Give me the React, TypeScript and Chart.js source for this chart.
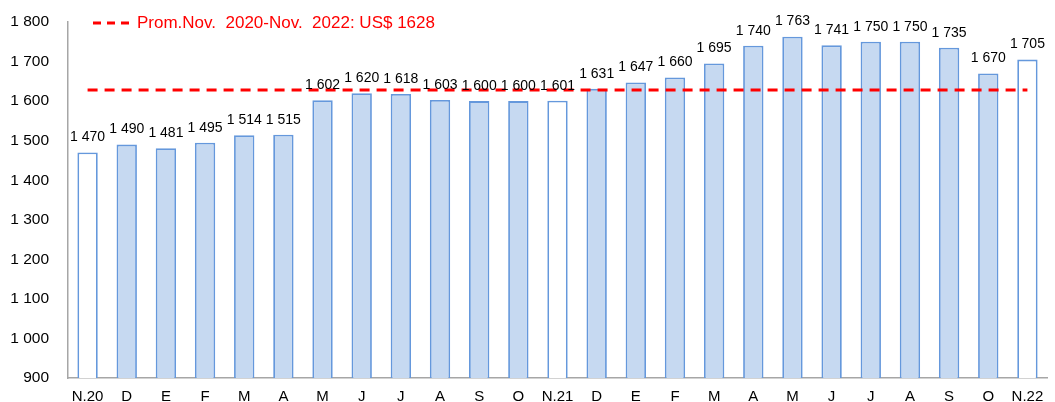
import React, { useEffect, useRef } from "react";
import { Chart, registerables } from "chart.js";

Chart.register(...registerables);

const categories = ["N.20", "D", "E", "F", "M", "A", "M", "J", "J", "A", "S", "O", "N.21", "D", "E", "F", "M", "A", "M", "J", "J", "A", "S", "O", "N.22"];
const prices = [1470, 1490, 1481, 1495, 1514, 1515, 1602, 1620, 1618, 1603, 1600, 1600, 1601, 1631, 1647, 1660, 1695, 1740, 1763, 1741, 1750, 1750, 1735, 1670, 1705];
const highlightLabels = ["N.20", "N.21", "N.22"];
const averageValue = 1628;
const averageLabel = "Prom.Nov.  2020-Nov.  2022: US$ 1628";
const yMin = 900;
const yMax = 1800;
const yStep = 100;

const FONT = "'Liberation Sans', Arial, sans-serif";
const fmt = (v: number) => String(v).replace(/\B(?=(\d{3})+(?!\d))/g, " ");

const barLabelsPlugin = {
  id: "barLabels",
  afterDatasetsDraw(chart: any) {
    const ctx = chart.ctx;
    const meta = chart.getDatasetMeta(0);
    ctx.save();
    ctx.fillStyle = "#000";
    ctx.font = `14px ${FONT}`;
    ctx.textAlign = "center";
    ctx.textBaseline = "middle";
    meta.data.forEach((el: any, i: number) => {
      ctx.fillText(fmt(prices[i]), el.x, el.y - 15);
    });
    ctx.restore();
  },
};

const legendPlugin = {
  id: "customLegend",
  afterDraw(chart: any) {
    const ctx = chart.ctx;
    const y = 23;
    ctx.save();
    ctx.strokeStyle = "#FF0000";
    ctx.lineWidth = 3;
    ctx.setLineDash([8, 6]);
    ctx.beginPath();
    ctx.moveTo(93, y);
    ctx.lineTo(134, y);
    ctx.stroke();
    ctx.setLineDash([]);
    ctx.fillStyle = "#FF0000";
    ctx.font = `17px ${FONT}`;
    ctx.textAlign = "left";
    ctx.textBaseline = "middle";
    ctx.fillText(averageLabel, 137, y);
    ctx.restore();
  },
};

export default function App() {
  const canvasRef = useRef<HTMLCanvasElement | null>(null);

  useEffect(() => {
    document.body.style.margin = "0";
    const canvas = canvasRef.current;
    if (!canvas) return;
    const chart = new Chart(canvas, {
      type: "bar",
      data: {
        labels: categories,
        datasets: [
          {
            type: "bar",
            label: "Precio",
            data: prices,
            backgroundColor: categories.map((c) => (highlightLabels.includes(c) ? "#FFFFFF" : "#C6D9F1")),
            borderColor: "#6598DC",
            borderWidth: 1.8,
            barPercentage: 0.52,
            categoryPercentage: 1,
            order: 2,
          } as any,
          {
            type: "line",
            label: averageLabel,
            data: categories.map(() => averageValue),
            borderColor: "#FF0000",
            borderWidth: 3,
            borderDash: [10, 7],
            pointRadius: 0,
            fill: false,
            order: 1,
          } as any,
        ],
      },
      options: {
        animation: false,
        responsive: false,
        maintainAspectRatio: false,
        layout: { padding: { top: 22, right: 8, bottom: 0, left: 8 } },
        plugins: {
          legend: { display: false },
          tooltip: { enabled: false },
        },
        scales: {
          x: {
            offset: true,
            grid: { display: false, drawTicks: false },
            border: { display: true, color: "#A6A6A6", width: 1.5 },
            ticks: {
              color: "#000",
              font: { family: FONT, size: 15 },
              padding: 10,
              maxRotation: 0,
              autoSkip: false,
            },
            afterFit(scale: any) {
              scale.height = 24;
            },
          },
          y: {
            min: yMin,
            max: yMax,
            grid: { display: false, drawTicks: false },
            border: { display: true, color: "#A6A6A6", width: 1.5 },
            ticks: {
              stepSize: yStep,
              color: "#000",
              font: { family: FONT, size: 15.5 },
              padding: 19,
              callback: (v: any) => fmt(Number(v)),
            },
            afterFit(scale: any) {
              scale.width = 60;
              scale.paddingTop = 0;
              scale.paddingBottom = 0;
            },
          },
        },
      },
      plugins: [barLabelsPlugin, legendPlugin],
    });
    return () => chart.destroy();
  }, []);

  return (
    <div style={{ width: 1055, height: 402, background: "#fff" }}>
      <canvas ref={canvasRef} width={1055} height={402} style={{ display: "block" }} />
    </div>
  );
}
